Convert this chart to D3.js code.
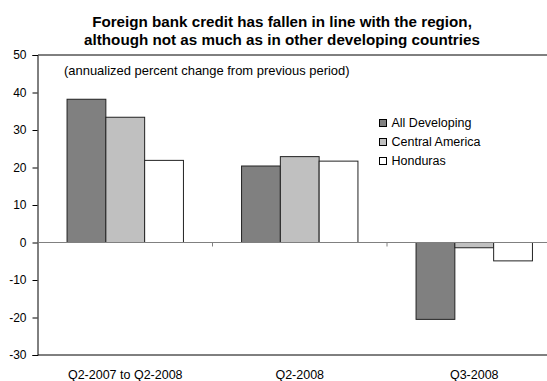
<!DOCTYPE html>
<html>
<head>
<meta charset="utf-8">
<script src="https://cdn.jsdelivr.net/npm/d3@7"></script>
<style>
  body { margin: 0; background: #fff; }
  text { font-family: "Liberation Sans", Arial, sans-serif; fill: #000; }
</style>
</head>
<body>
<svg width="547" height="381"></svg>
<script>
// data
let categories = ['Q2-2007 to Q2-2008', 'Q2-2008', 'Q3-2008']
let seriesNames = ['All Developing', 'Central America', 'Honduras']
let allDeveloping = [38.2, 20.4, -20.5]
let centralAmerica = [33.4, 22.9, -1.4]
let honduras = [21.9, 21.7, -4.9]
let yTicks = [50, 40, 30, 20, 10, 0, -10, -20, -30]

let seriesValues = [allDeveloping, centralAmerica, honduras]
let fills = ['#808080', '#c0c0c0', '#ffffff']

let svg = d3.select('svg')

let plotLeft = 38, plotRight = 561.5, plotTop = 55, plotBottom = 355

let x = d3.scaleBand()
    .domain(categories)
    .range([plotLeft, plotRight])
    .padding(0)

let y = d3.scaleLinear()
    .domain([-30, 50])
    .range([plotBottom, plotTop])

let groupW = x.bandwidth() * 0.667
let barW = groupW / seriesNames.length

// title
let title = svg.append('text')
    .attr('text-anchor', 'middle')
    .attr('font-weight', 'bold')
    .attr('font-size', 15)
let t1 = title.append('tspan').attr('x', 282).attr('y', 27)
    .text('Foreign bank credit has fallen in line with the region,')
title.append('tspan').attr('x', 282).attr('y', 45)
    .text('although not as much as in other developing countries')
// fit title size to the reference width of line 1 (~380px)
let w1 = t1.node().getComputedTextLength()
title.attr('font-size', 15 * 380 / w1)

// top and bottom border lines
svg.append('line')
    .attr('x1', plotLeft).attr('x2', 547)
    .attr('y1', plotTop).attr('y2', plotTop)
    .attr('stroke', '#000').attr('stroke-width', 1)

svg.append('line')
    .attr('x1', plotLeft).attr('x2', 547)
    .attr('y1', plotBottom).attr('y2', plotBottom)
    .attr('stroke', '#000').attr('stroke-width', 1)

// y axis
let yAxis = svg.append('g')
    .attr('transform', 'translate(' + (plotLeft - 0.5) + ',0)')
    .call(d3.axisLeft(y).tickValues(yTicks).tickSize(5).tickPadding(6).tickFormat(function(d) { return String(d) }))
yAxis.select('.domain').attr('stroke', '#000')
yAxis.selectAll('.tick line').attr('stroke', '#000')
yAxis.selectAll('text')
    .attr('font-size', 12)
    .attr('font-family', '"Liberation Sans", Arial, sans-serif')
    .attr('fill', '#000')

// subtitle
let sub = svg.append('text')
    .attr('x', 64).attr('y', 75)
    .attr('font-size', 12)
    .text('(annualized percent change from previous period)')
let ws = sub.node().getComputedTextLength()
sub.attr('font-size', 12 * 286 / ws)

// bars
let groups = svg.append('g').selectAll('g')
    .data(categories)
    .enter().append('g')
    .attr('transform', function(d) {
      return 'translate(' + (x(d) + (x.bandwidth() - groupW) / 2) + ',0)'
    })

groups.selectAll('rect')
    .data(function(d, i) {
      return seriesValues.map(function(s, j) { return { v: s[i], j: j } })
    })
    .enter().append('rect')
    .attr('x', function(d) { return d.j * barW })
    .attr('y', function(d) { return y(Math.max(0, d.v)) })
    .attr('width', barW)
    .attr('height', function(d) { return Math.abs(y(d.v) - y(0)) })
    .attr('fill', function(d) { return fills[d.j] })
    .attr('stroke', '#222')
    .attr('stroke-width', 1)

// zero line with category ticks
svg.append('line')
    .attr('x1', plotLeft).attr('x2', 547)
    .attr('y1', y(0)).attr('y2', y(0))
    .attr('stroke', '#808080').attr('stroke-width', 1)

svg.append('g').selectAll('line')
    .data(categories.slice(1))
    .enter().append('line')
    .attr('x1', function(d) { return x(d) }).attr('x2', function(d) { return x(d) })
    .attr('y1', y(0)).attr('y2', y(0) + 4)
    .attr('stroke', '#808080')

// category labels
svg.append('g').selectAll('text')
    .data(categories)
    .enter().append('text')
    .attr('x', function(d) { return x(d) + x.bandwidth() / 2 })
    .attr('y', 379)
    .attr('text-anchor', 'middle')
    .attr('font-size', 12.5)
    .text(function(d) { return d })

// legend
let legend = svg.append('g').selectAll('g')
    .data(seriesNames)
    .enter().append('g')
    .attr('transform', function(d, i) { return 'translate(379.5,' + (119.5 + i * 19) + ')' })
legend.append('rect')
    .attr('width', 7).attr('height', 7)
    .attr('fill', function(d, i) { return fills[i] })
    .attr('stroke', '#000')
legend.append('text')
    .attr('x', 12).attr('y', 7.5)
    .attr('font-size', 12.5)
    .text(function(d) { return d })
</script>
</body>
</html>
